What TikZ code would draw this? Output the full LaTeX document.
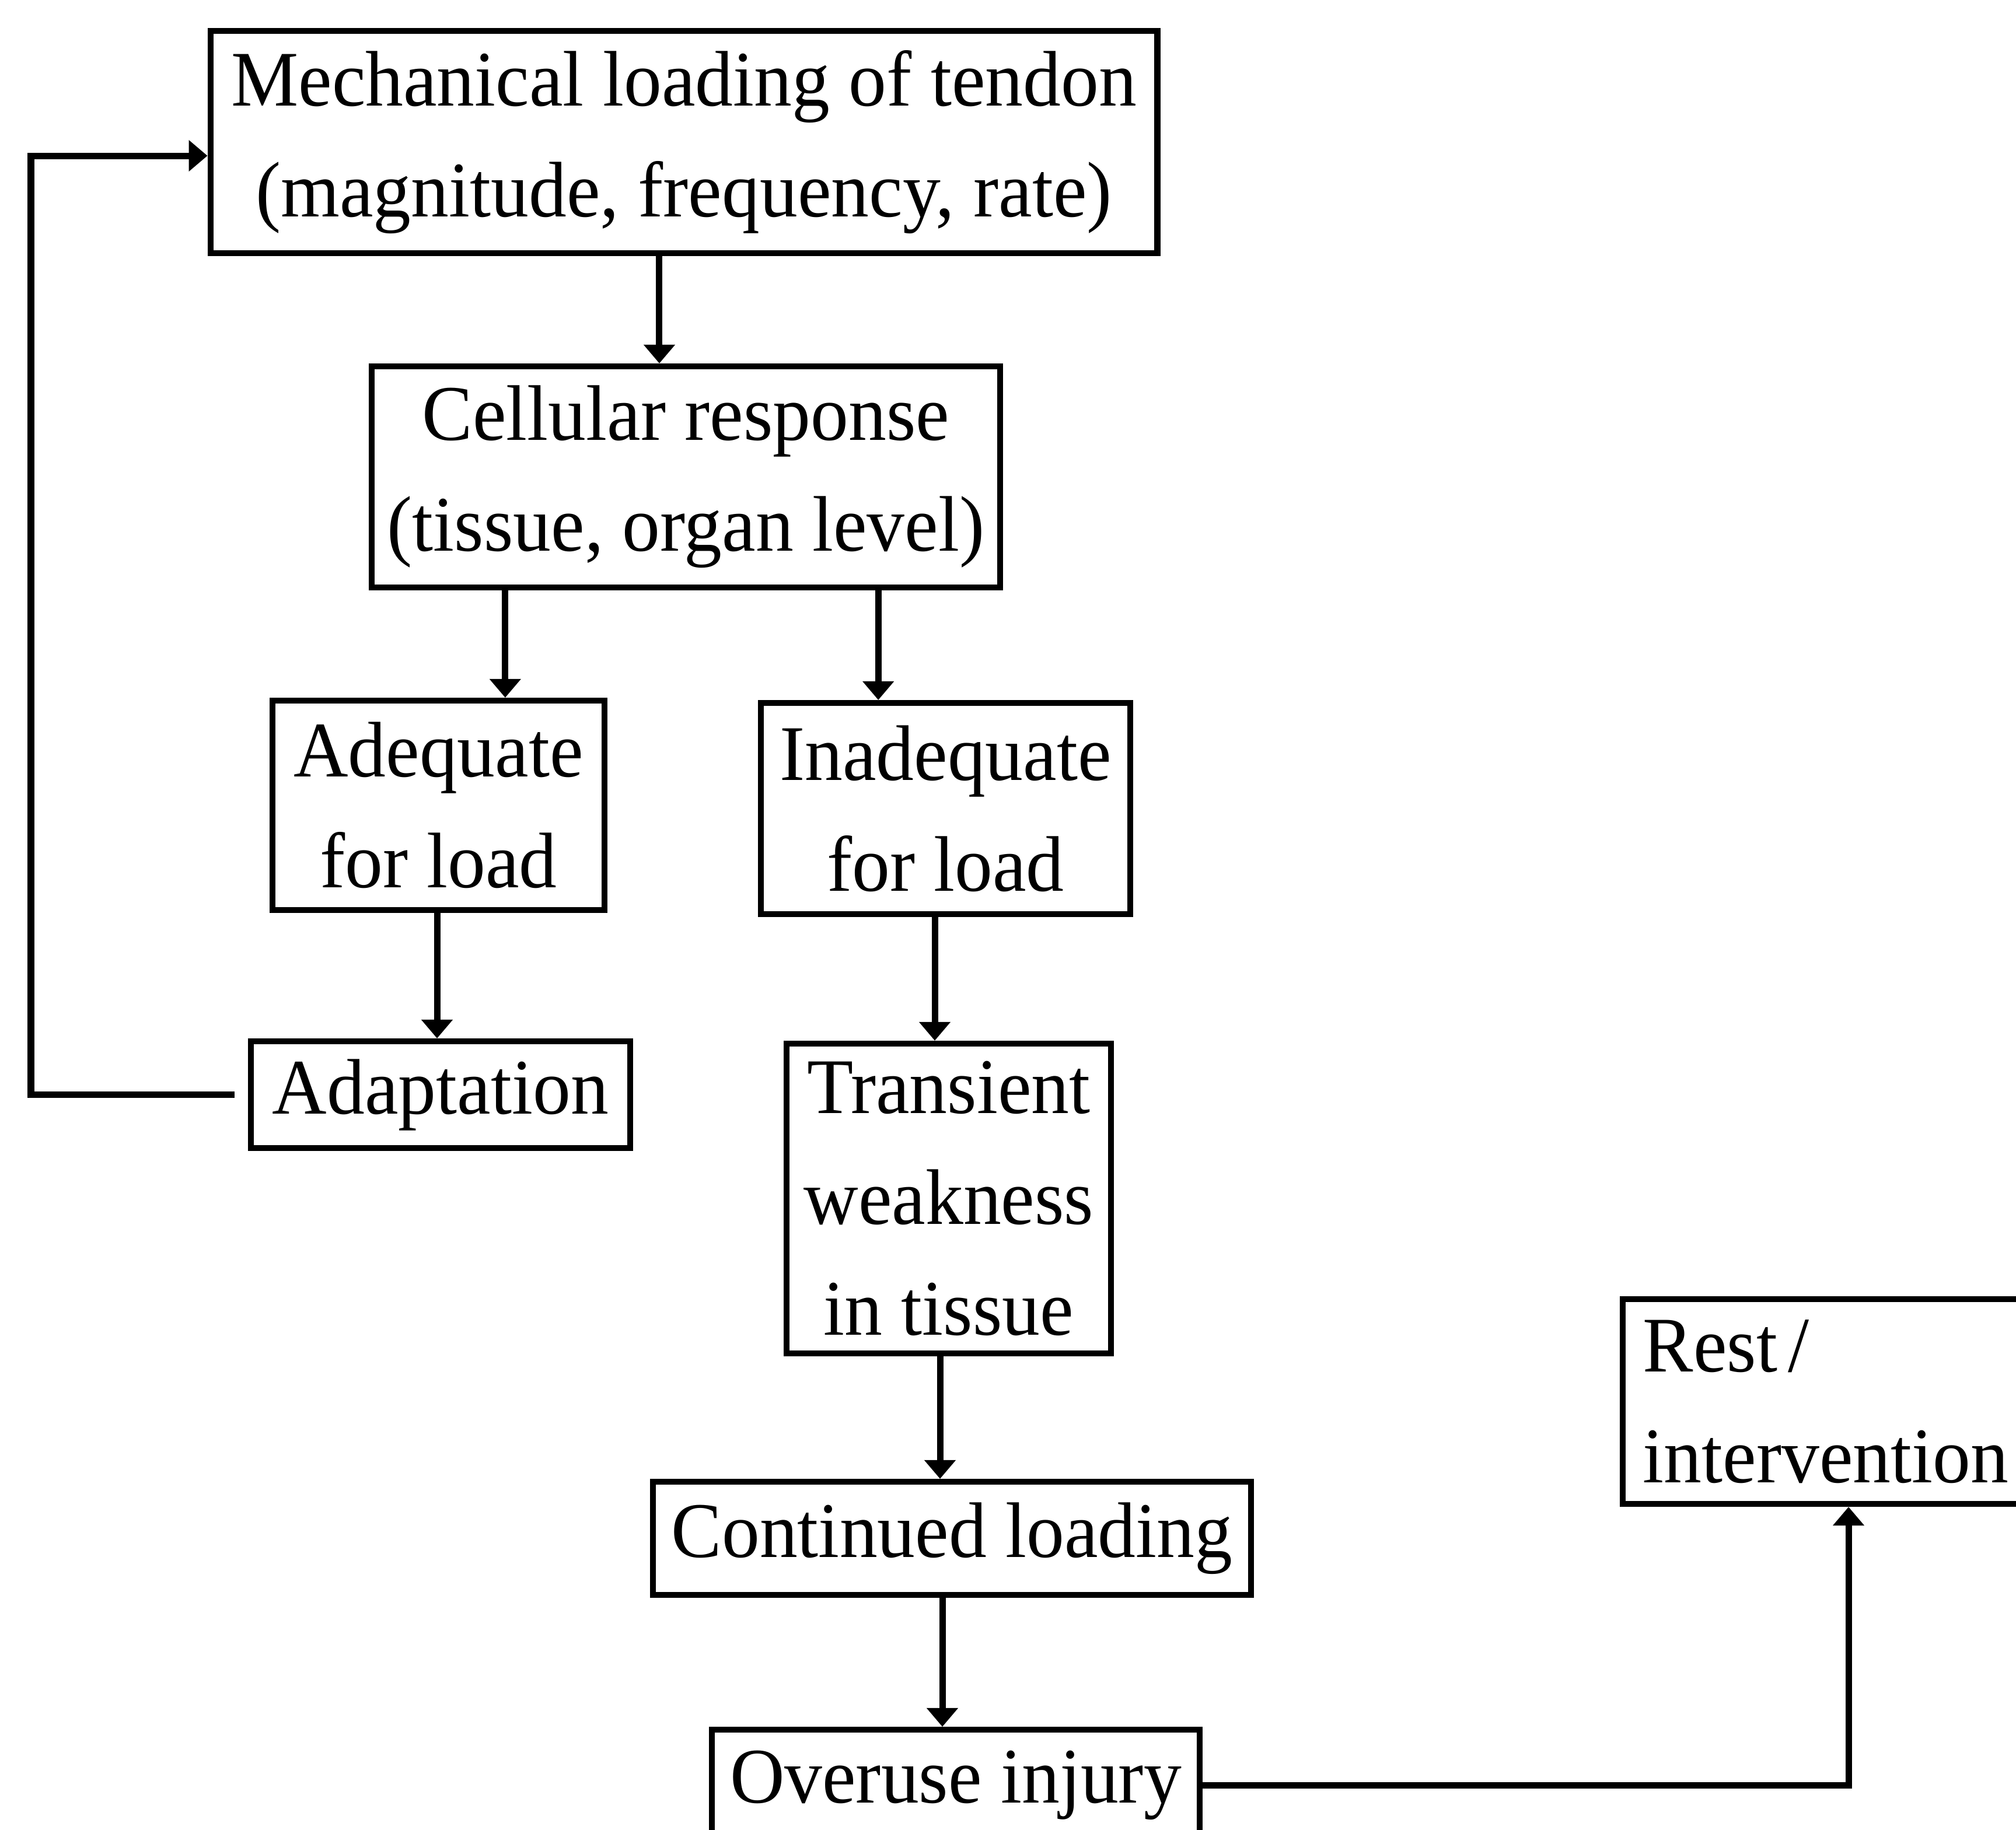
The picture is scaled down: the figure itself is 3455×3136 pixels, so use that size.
\documentclass[tikz,border=0pt]{standalone}
\usepackage{fontspec}
\setmainfont[FakeStretch=0.96]{Liberation Serif}
\usetikzlibrary{arrows.meta}
\begin{document}
\begin{tikzpicture}[x=0.01cm,y=-0.01cm,
  box/.style={draw, line width=0.1cm, inner sep=0pt, align=center, font=\fontsize{38.4pt}{54pt}\selectfont},
  arr/.style={line width=0.11cm, -{Triangle[length=0.32cm,width=0.52cm]}}]
\useasboundingbox (0,0) rectangle (3455,3136);
\node[box, minimum width=16.22cm, minimum height=3.81cm] (mech) at (1172,243.5) {Mechanical loading of tendon\\(magnitude, frequency, rate)};
\node[box, minimum width=10.77cm, minimum height=3.79cm] (cell) at (1175.5,817.5) {Cellular response\\(tissue, organ level)};
\node[box, minimum width=5.69cm, minimum height=3.59cm] (adeq) at (751.5,1380.5) {Adequate\\for load};
\node[box, minimum width=6.33cm, minimum height=3.62cm] (inad) at (1620.5,1386) {Inadequate\\for load};
\node[box, minimum width=6.50cm, minimum height=1.83cm] (adapt) at (755,1876.5) {Adaptation};
\node[box, minimum width=5.56cm, minimum height=5.31cm] (trans) at (1626,2054.5) {Transient\\weakness\\in tissue};
\node[box, minimum width=10.25cm, minimum height=1.94cm] (cont) at (1631.5,2637) {Continued loading};
\node[box, minimum width=8.36cm, minimum height=1.90cm] (over) at (1638,3060) {Overuse injury};
\node[box, align=left, text width=7.04cm, inner xsep=0.35cm, minimum height=3.51cm] (rest) at (3168,2402.5) {Rest\hspace{-0.2em} /\\intervention};
\coordinate (fbx) at (53,0);
\draw[arr] ([xshift=-0.42cm]mech.south) -- ([xshift=-0.42cm]mech.south |- cell.north);
\draw[arr] ([xshift=-3.095cm]cell.south) -- ([xshift=-3.095cm]cell.south |- adeq.north);
\draw[arr] ([xshift=3.295cm]cell.south) -- ([xshift=3.295cm]cell.south |- inad.north);
\draw[arr] ([xshift=-0.025cm]adeq.south) -- ([xshift=-0.025cm]adeq.south |- adapt.north);
\draw[arr] ([xshift=-0.185cm]inad.south) -- ([xshift=-0.185cm]inad.south |- trans.north);
\draw[arr] ([xshift=-0.15cm]trans.south) -- ([xshift=-0.15cm]trans.south |- cont.north);
\draw[arr] ([xshift=-0.165cm]cont.south) -- ([xshift=-0.165cm]cont.south |- over.north);
\draw[arr] ([xshift=-0.23cm]adapt.west) -- (adapt.west -| fbx) |- ([yshift=-0.235cm]mech.west);
\draw[arr] (over.east) -| (rest.south);
\end{tikzpicture}
\end{document}
